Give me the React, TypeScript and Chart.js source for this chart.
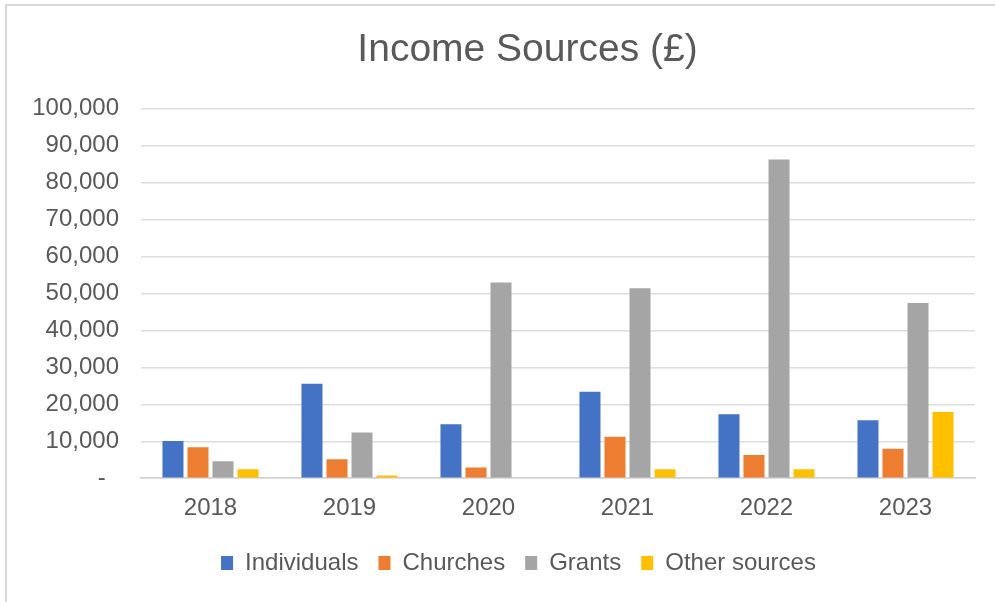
import React, { useEffect, useRef } from 'react';
import { Chart, registerables } from 'chart.js';

Chart.register(...registerables);

const categories = ['2018', '2019', '2020', '2021', '2022', '2023'];
const individuals = [10100, 25600, 14600, 23400, 17300, 15700];
const churches = [8400, 5100, 2900, 11200, 6300, 8000];
const grants = [4600, 12400, 53000, 51400, 86300, 47400];
const otherSources = [2400, 700, 0, 2400, 2400, 17900];
const seriesNames = ['Individuals', 'Churches', 'Grants', 'Other sources'];
const seriesColors = ['#4472C4', '#ED7D31', '#A5A5A5', '#FFC000'];
const yMax = 100000;
const yStep = 10000;
const titleText = 'Income Sources (£)';

const FONT = "'Liberation Sans', Arial, Helvetica, sans-serif";
const TEXT = '#595959';

export default function App() {
  const ref = useRef<HTMLCanvasElement>(null);
  useEffect(() => {
    const seriesValues = [individuals, churches, grants, otherSources];
    const bgPlugin = {
      id: 'bg',
      beforeDraw(chart: any) {
        const ctx = chart.ctx;
        ctx.save();
        ctx.fillStyle = '#ffffff';
        ctx.fillRect(0, 0, chart.width, chart.height);
        ctx.strokeStyle = '#d9d9d9';
        ctx.lineWidth = 2;
        ctx.beginPath();
        ctx.moveTo(6, chart.height);
        ctx.lineTo(6, 5);
        ctx.lineTo(chart.width, 5);
        ctx.stroke();
        ctx.restore();
      },
    };
    const shiftPlugin = {
      id: 'shiftBlocks',
      afterLayout(chart: any) {
        const lg = chart.legend;
        if (lg) {
          const dx = 26, dy = -8;
          lg.left += dx; lg.right += dx; lg.top += dy; lg.bottom += dy;
        }
        const tb = chart.titleBlock;
        if (tb) {
          const tx = 35;
          tb.left += tx; tb.right += tx;
        }
      },
    };
    const chart = new Chart(ref.current!, {
      type: 'bar',
      data: {
        labels: categories,
        datasets: seriesValues.map((vals, i) => ({
          label: seriesNames[i],
          data: vals,
          backgroundColor: seriesColors[i],
          borderWidth: 0,
          categoryPercentage: 0.72,
          barPercentage: 0.84,
        })),
      },
      options: {
        responsive: false,
        animation: false,
        layout: { padding: { left: 10, right: 20, top: 0, bottom: 9 } },
        plugins: {
          title: {
            display: true,
            text: titleText,
            color: TEXT,
            font: { family: FONT, size: 39, weight: 'normal' },
            padding: { top: 27, bottom: 35 },
          },
          legend: {
            position: 'bottom',
            labels: {
              color: TEXT,
              font: { family: FONT, size: 24 },
              boxWidth: 12,
              boxHeight: 14,
              padding: 20,
            },
          },
          tooltip: { enabled: false },
        },
        scales: {
          x: {
            grid: { display: false, drawTicks: false },
            border: { display: true, color: '#d0d0d0', width: 1.5 },
            ticks: { color: TEXT, font: { family: FONT, size: 24 }, padding: 16 },
          },
          y: {
            min: 0,
            max: yMax,
            afterFit(scale: any) { scale.width = 131; },
            grid: { color: '#dedede', lineWidth: 1.5, drawTicks: false },
            border: { display: false },
            ticks: {
              stepSize: yStep,
              color: TEXT,
              font: { family: FONT, size: 24 },
              padding: 22,
              callback: (v: any) => (Number(v) === 0 ? '-  ' : Number(v).toLocaleString('en-US')),
            },
          },
        },
      },
      plugins: [bgPlugin, shiftPlugin],
    });
    return () => chart.destroy();
  }, []);
  return (
    <div style={{ position: 'fixed', left: 0, top: 0, width: 995, height: 602, background: '#fff' }}>
      <canvas ref={ref} width={995} height={602} style={{ display: 'block' }} />
    </div>
  );
}
